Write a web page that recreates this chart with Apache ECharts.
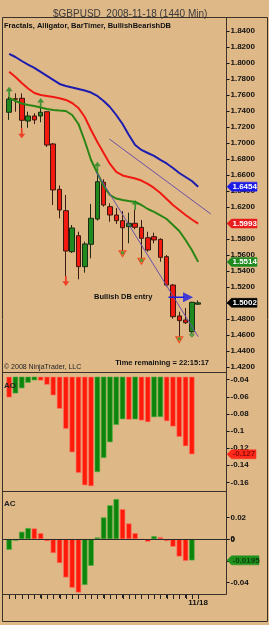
<!DOCTYPE html>
<html><head><meta charset="utf-8">
<script src="https://cdn.jsdelivr.net/npm/echarts@6.0.0/dist/echarts.min.js"></script>
<style>html,body{margin:0;padding:0;background:#DEB887;}#c{width:269px;height:625px;}</style>
</head><body><div id="c"></div>
<script>
// ---------------- data ----------------
const chartTitle = '$GBPUSD  2008-11-18 (1440 Min)';
const indicatorTitle = 'Fractals, Alligator, BarTimer, BullishBearishDB';
const copyrightText = '\u00A9 2008 NinjaTrader, LLC';
const timeRemaining = 'Time remaining = 22:15:17';
const dbEntryText = 'Bullish DB entry';
const lastBarLabel = '11/18';

const opens  = [1.7384,1.7552,1.7559,1.7275,1.7338,1.7338,1.7391,1.6988,1.6421,1.6154,1.5641,1.5841,1.5454,1.5734,1.6050,1.6509,1.6204,1.6100,1.6029,1.5954,1.5996,1.5946,1.5816,1.5829,1.5796,1.5579,1.5225,1.4838,1.4788,1.4641,1.4985];
const closes = [1.7550,1.7548,1.7284,1.7338,1.7288,1.7384,1.6975,1.6413,1.6163,1.5650,1.5938,1.5454,1.5738,1.6059,1.6516,1.6225,1.6100,1.6029,1.5941,1.5996,1.5946,1.5809,1.5663,1.5788,1.5571,1.5225,1.4829,1.4779,1.4754,1.5009,1.5002];
const lows   = [1.7289,1.7391,1.7184,1.7191,1.7238,1.7259,1.6950,1.6225,1.6059,1.5338,1.5625,1.5296,1.5379,1.5559,1.6030,1.6204,1.6016,1.5988,1.5654,1.5746,1.5921,1.5559,1.5641,1.5746,1.5516,1.5204,1.4804,1.4579,1.4738,1.4616,1.4975];
const highs  = [1.7579,1.7621,1.7620,1.7391,1.7372,1.7438,1.7400,1.7000,1.6470,1.6350,1.5975,1.5891,1.5766,1.6238,1.6641,1.6546,1.6246,1.6188,1.6150,1.6129,1.6163,1.6038,1.5891,1.5879,1.5809,1.5600,1.5238,1.4891,1.4938,1.5015,1.5032];

// Alligator
const jaw   = [1.8113,1.8075,1.8025,1.7981,1.7938,1.7888,1.7838,1.7788,1.7738,1.7713,1.7694,1.7675,1.7656,1.7631,1.7588,1.7525,1.7450,1.7350,1.7238,1.7100,1.6975,1.6913,1.6875,1.6838,1.6788,1.6744,1.6688,1.6625,1.6575,1.6525,1.6454];
const teeth = [1.7891,1.7825,1.7750,1.7681,1.7625,1.7600,1.7588,1.7575,1.7559,1.7538,1.7500,1.7438,1.7325,1.7163,1.7013,1.6875,1.6738,1.6638,1.6594,1.6575,1.6556,1.6531,1.6488,1.6438,1.6375,1.6300,1.6225,1.6163,1.6100,1.6044,1.5993];
const lips  = [1.7563,1.7525,1.7494,1.7475,1.7463,1.7444,1.7425,1.7413,1.7406,1.7400,1.7350,1.7238,1.7025,1.6788,1.6625,1.6463,1.6350,1.6306,1.6288,1.6275,1.6263,1.6225,1.6175,1.6138,1.6094,1.6050,1.5975,1.5900,1.5788,1.5663,1.5514];

// trend lines: [bar position, price]
const trendUpper = [[15.9, 1.7050], [32.0, 1.6113]];
const trendLower = [[13.8, 1.6641], [30.0, 1.4579]];

// fractal / signal bars
const upFractalBars = [0, 5, 14, 20];
const downFractalBars = [2, 9];
const dotFractalBars = [18, 21, 27];
const signalBar = 29;
const dbEntryPrice = 1.5071;
const dbEntryLine = [25.3, 27.8];
const dbEntryArrowAt = 28.4;

// oscillators (value before the first visible bar sets first colour)
const aoPrev = -0.0580;
const aoValues = [-0.0607,-0.0560,-0.0500,-0.0435,-0.0407,-0.0410,-0.0459,-0.0583,-0.0740,-0.0975,-0.1249,-0.1490,-0.1635,-0.1645,-0.1480,-0.1315,-0.1131,-0.0928,-0.0862,-0.0868,-0.0863,-0.0877,-0.0896,-0.0838,-0.0836,-0.0885,-0.0947,-0.1069,-0.1178,-0.1272];
const acPrev = -0.0120;
const acValues = [-0.0098,-0.0015,0.0067,0.0101,0.0098,0.0055,-0.0018,-0.0128,-0.0220,-0.0352,-0.0447,-0.0490,-0.0420,-0.0245,0.0015,0.0199,0.0310,0.0367,0.0275,0.0144,0.0055,-0.0003,-0.0024,0.0027,0.0018,-0.0018,-0.0070,-0.0160,-0.0200,-0.0195];

// axis ticks
const priceTicks = {min: 1.42, max: 1.84, step: 0.02};
const aoTicks = {min: -0.16, max: -0.04, step: 0.02};
const acTicks = {min: -0.04, max: 0.02, step: 0.02};
const acZeroLabel = '0';

// ---------------- layout / style ----------------
const FONT = '"Liberation Sans", Arial, sans-serif';
const BG = '#DEB887';
const FRAME = '#3a3228';
const UPC = '#1f8a1f', DNC = '#f21a10';
const nBars = opens.length;
const nSlots = nBars + 4;
const slots = Array.from({length: nSlots}, (_, i) => String(i));
const barSlots = slots.slice(0, nBars);
const GL = 6, AXX = 226.5, GR = 269 - AXX;
const slotW = (AXX - GL) / nSlots;
const mainTop = 31, mainBottom = 367;
const aoLblTop = 379.7, aoLblBot = 482.3, aoPanTop = 377, aoPanBot = 490;
const acLblTop = 517.3, acLblBot = 582.7, acPanBot = 594;

function hidden(t, lt, lb, pt, pb) {
  const ppu = (lb - lt) / (t.max - t.min);
  return {max: t.max + (lt - pt) / ppu, min: t.min - (pb - lb) / ppu};
}
const aoHidden = hidden(aoTicks, aoLblTop, aoLblBot, aoPanTop, aoPanBot);

function colored(vals, prev) {
  return vals.map((v, i) => {
    const p = i === 0 ? prev : vals[i - 1];
    return {value: v, itemStyle: {color: v >= p ? '#0d850d' : '#ff1a0a', borderColor: v >= p ? '#4fb040' : '#ff7a6a', borderWidth: 0.6}};
  });
}

const lbl = {show: true, fontSize: 8, fontWeight: 'bold', color: '#111', fontFamily: FONT, margin: 4, showMinLabel: true, showMaxLabel: true, hideOverlap: false};
const tick = {show: true, inside: false, length: 3, lineStyle: {color: '#111', width: 1}};
const yLine = {show: true, onZero: false, lineStyle: {color: FRAME, width: 1}};
function hx(g) { return {gridIndex: g, type: 'category', data: slots, show: false, axisLine: {onZero: false}}; }

const arrowPath = 'path://M6,0 L12,6 L7.5,6 L7.5,13 L4.5,13 L4.5,6 L0,6 Z';

const option = {
  backgroundColor: BG,
  animation: false,
  title: {text: chartTitle, left: 48, top: 4, textStyle: {fontSize: 10, fontWeight: 'normal', color: '#3a3a3a', fontFamily: FONT}},
  grid: [
    {left: GL, right: GR, top: mainTop, height: mainBottom - mainTop},
    {left: GL, right: GR, top: aoLblTop, height: aoLblBot - aoLblTop},
    {left: GL, right: GR, top: aoPanTop, height: aoPanBot - aoPanTop},
    {left: GL, right: GR, top: acLblTop, height: acLblBot - acLblTop},
    {left: GL + slotW / 2, width: slotW * (nBars - 1), top: acPanBot - 4, height: 4},
    {left: GL, right: GR, top: acLblTop, height: acLblBot - acLblTop}
  ],
  xAxis: [
    hx(0),
    {gridIndex: 0, type: 'value', min: -0.5, max: nSlots - 0.5, show: false, axisLine: {onZero: false}},
    hx(1), hx(2), hx(3),
    {gridIndex: 4, type: 'category', data: barSlots, boundaryGap: false, position: 'bottom',
     axisLine: {show: true, onZero: false, lineStyle: {color: FRAME, width: 1}},
     axisTick: {show: true, inside: false, length: 4, interval: 0, lineStyle: {color: '#222', width: 1}},
     axisLabel: {show: true, interval: (i) => i === nBars - 1, formatter: () => lastBarLabel, fontSize: 8, fontWeight: 'bold', color: '#111', fontFamily: FONT, margin: 5, showMaxLabel: true},
     splitLine: {show: false}},
    hx(5)
  ],
  yAxis: [
    {gridIndex: 0, type: 'value', position: 'right', min: priceTicks.min, max: priceTicks.max, interval: priceTicks.step,
     axisLine: yLine, axisTick: tick, splitLine: {show: false}, axisLabel: Object.assign({formatter: v => v.toFixed(4)}, lbl)},
    {gridIndex: 1, type: 'value', position: 'right', min: aoTicks.min, max: aoTicks.max, interval: aoTicks.step,
     axisLine: yLine, axisTick: tick, splitLine: {show: false}, axisLabel: lbl},
    {gridIndex: 2, type: 'value', min: aoHidden.min, max: aoHidden.max, show: false, splitLine: {show: false}},
    {gridIndex: 3, type: 'value', position: 'right', min: acTicks.min, max: acTicks.max, interval: acTicks.step,
     axisLine: yLine, axisTick: tick, splitLine: {show: false}, axisLabel: lbl},
    {gridIndex: 4, type: 'value', min: 0, max: 1, show: false, splitLine: {show: false}},
    {gridIndex: 5, type: 'value', min: acTicks.min, max: acTicks.max, show: false, splitLine: {show: false}}
  ],
  series: [
    {type: 'candlestick', xAxisIndex: 0, yAxisIndex: 0, barWidth: 5,
     data: opens.map((o, i) => [o, closes[i], lows[i], highs[i]]),
     itemStyle: {color: UPC, color0: DNC, borderColor: '#1c2a14', borderColor0: '#3a1a10', borderWidth: 1}},
    {type: 'line', xAxisIndex: 0, yAxisIndex: 0, data: jaw, showSymbol: false, lineStyle: {color: '#1c1cae', width: 2}},
    {type: 'line', xAxisIndex: 0, yAxisIndex: 0, data: teeth, showSymbol: false, lineStyle: {color: '#f01a12', width: 2}},
    {type: 'line', xAxisIndex: 0, yAxisIndex: 0, data: lips, showSymbol: false, lineStyle: {color: '#2a8614', width: 2}},
    {type: 'line', xAxisIndex: 1, yAxisIndex: 0, data: trendUpper, showSymbol: false, lineStyle: {color: '#6a50a8', width: 1}},
    {type: 'line', xAxisIndex: 1, yAxisIndex: 0, data: trendLower, showSymbol: false, lineStyle: {color: '#6a50a8', width: 1}},
    {type: 'scatter', xAxisIndex: 0, yAxisIndex: 0, symbol: arrowPath, symbolSize: [7, 10], symbolOffset: [0, -5],
     data: upFractalBars.map(i => [i, highs[i]]), itemStyle: {color: '#1d8a1d'}, z: 4},
    {type: 'scatter', xAxisIndex: 0, yAxisIndex: 0, symbol: arrowPath, symbolSize: [7, 10], symbolRotate: 180, symbolOffset: [0, 5],
     data: downFractalBars.map(i => [i, lows[i]]), itemStyle: {color: '#f2200e'}, z: 4},
    {type: 'scatter', xAxisIndex: 0, yAxisIndex: 0, symbol: 'triangle', symbolSize: [7, 6], symbolRotate: 180, symbolOffset: [0, 3],
     data: dotFractalBars.map(i => [i, lows[i]]), itemStyle: {color: '#f09050', borderColor: '#f2300e', borderWidth: 1}, z: 4},
    {type: 'scatter', xAxisIndex: 0, yAxisIndex: 0, symbol: 'circle', symbolSize: 3.5, symbolOffset: [0, 2],
     data: dotFractalBars.map(i => [i, lows[i]]), itemStyle: {color: '#2a9a2a'}, z: 5},
    {type: 'scatter', xAxisIndex: 0, yAxisIndex: 0, symbol: 'diamond', symbolSize: 5, symbolOffset: [0, 1],
     data: [[signalBar, lows[signalBar]]], itemStyle: {color: '#3aa03a', borderColor: '#1a5a1a', borderWidth: 0.5}, z: 5},
    {type: 'line', xAxisIndex: 1, yAxisIndex: 0, data: dbEntryLine.map(x => [x, dbEntryPrice]), showSymbol: false, lineStyle: {color: '#1a1ae8', width: 1.5}},
    {type: 'scatter', xAxisIndex: 1, yAxisIndex: 0, symbol: 'triangle', symbolSize: [10, 10], symbolRotate: -90,
     data: [[dbEntryArrowAt, dbEntryPrice]], itemStyle: {color: '#1a1ae8'}, z: 5},
    {type: 'bar', xAxisIndex: 3, yAxisIndex: 2, barWidth: 5.4, data: colored(aoValues, aoPrev)},
    {type: 'bar', xAxisIndex: 6, yAxisIndex: 5, barWidth: 5.4, clip: false, data: colored(acValues, acPrev)}
  ]
};

const chart = echarts.init(document.getElementById('c'), null, {renderer: 'canvas'});
chart.setOption(option);

// ---------------- frame, texts and value tags ----------------
const G = [];
const ls = {stroke: FRAME, lineWidth: 1};
G.push({type: 'rect', z: 50, shape: {x: 2.5, y: 17.5, width: 265, height: 604}, style: {fill: null, stroke: FRAME, lineWidth: 1}});
G.push({type: 'line', z: 50, shape: {x1: AXX, y1: 17.5, x2: AXX, y2: acPanBot + 0.5}, style: ls});
[372.5, 491.5, acPanBot + 0.5].forEach(y => G.push({type: 'line', z: 50, shape: {x1: 2.5, y1: y, x2: AXX, y2: y}, style: ls}));
// AC zero line, zero tick and its label
const acZero = Math.round(chart.convertToPixel({yAxisIndex: 5}, 0)) + 0.5;
G.push({type: 'line', z: 40, shape: {x1: 3, y1: acZero, x2: AXX, y2: acZero}, style: {stroke: '#2a2a2a', lineWidth: 1}});
G.push({type: 'line', z: 50, shape: {x1: AXX, y1: acZero, x2: AXX + 3, y2: acZero}, style: {stroke: '#111', lineWidth: 1}});
G.push({type: 'text', z: 60, x: AXX + 4, y: acZero, style: {text: acZeroLabel, fontSize: 8, fontWeight: 'bold', fontFamily: FONT, fill: '#111', verticalAlign: 'middle'}});
// bar ticks along the bottom time axis
for (let i = 0; i < nBars; i++) {
  const x = Math.round(chart.convertToPixel({xAxisIndex: 0}, i)) + 0.5;
  G.push({type: 'line', z: 50, shape: {x1: x, y1: acPanBot + 1, x2: x, y2: acPanBot + 5}, style: {stroke: '#222', lineWidth: 1}});
}

function txt(x, y, t, size, weight, align, color) {
  G.push({type: 'text', z: 60, x: x, y: y, style: {text: t, fontSize: size, fontWeight: weight, fontFamily: FONT, fill: color || '#111', align: align || 'left', verticalAlign: 'middle'}});
}
txt(4, 25.5, indicatorTitle, 7.5, 'bold');
txt(94, chart.convertToPixel({yAxisIndex: 0}, dbEntryPrice), dbEntryText, 7.5, 'bold');
txt(4, 367.5, copyrightText, 7, 'normal', 'left', '#222');
txt(209, 363, timeRemaining, 7.5, 'bold', 'right');
txt(4, 385.5, 'AO', 8, 'bold', 'left', '#222');
txt(4, 504, 'AC', 8, 'bold', 'left', '#222');

function tag(axis, value, text, fill, color, w) {
  const y = chart.convertToPixel({yAxisIndex: axis}, value);
  const x0 = 227, x1 = 231.5, x2 = 227 + w;
  G.push({type: 'polygon', z: 70, shape: {points: [[x0, y], [x1, y - 4.5], [x2, y - 4.5], [x2, y + 4.5], [x1, y + 4.5]]},
          style: {fill: fill, stroke: fill, lineWidth: 0.5}});
  G.push({type: 'text', z: 71, x: 232.5, y: y, style: {text: text, fontSize: 8, fontWeight: 'bold', fontFamily: FONT, fill: color, verticalAlign: 'middle'}});
}
tag(0, jaw[nBars - 1], jaw[nBars - 1].toFixed(4), '#1c1ce6', '#fff', 30);
tag(0, teeth[nBars - 1], teeth[nBars - 1].toFixed(4), '#e81c1c', '#fff', 30);
tag(0, lips[nBars - 1], lips[nBars - 1].toFixed(4), '#1f8a1f', '#fff', 30);
tag(0, closes[nBars - 1], closes[nBars - 1].toFixed(4), '#000', '#fff', 30);
const aoLast = aoValues[aoValues.length - 1];
tag(2, aoLast, aoLast.toFixed(3), '#ff2a1a', '#8a0a0a', 29);
const acLast = acValues[acValues.length - 1];
tag(5, acLast, acLast.toFixed(4), '#20901c', '#0a400a', 32);

chart.setOption({graphic: {elements: G}});
</script>
</body></html>
